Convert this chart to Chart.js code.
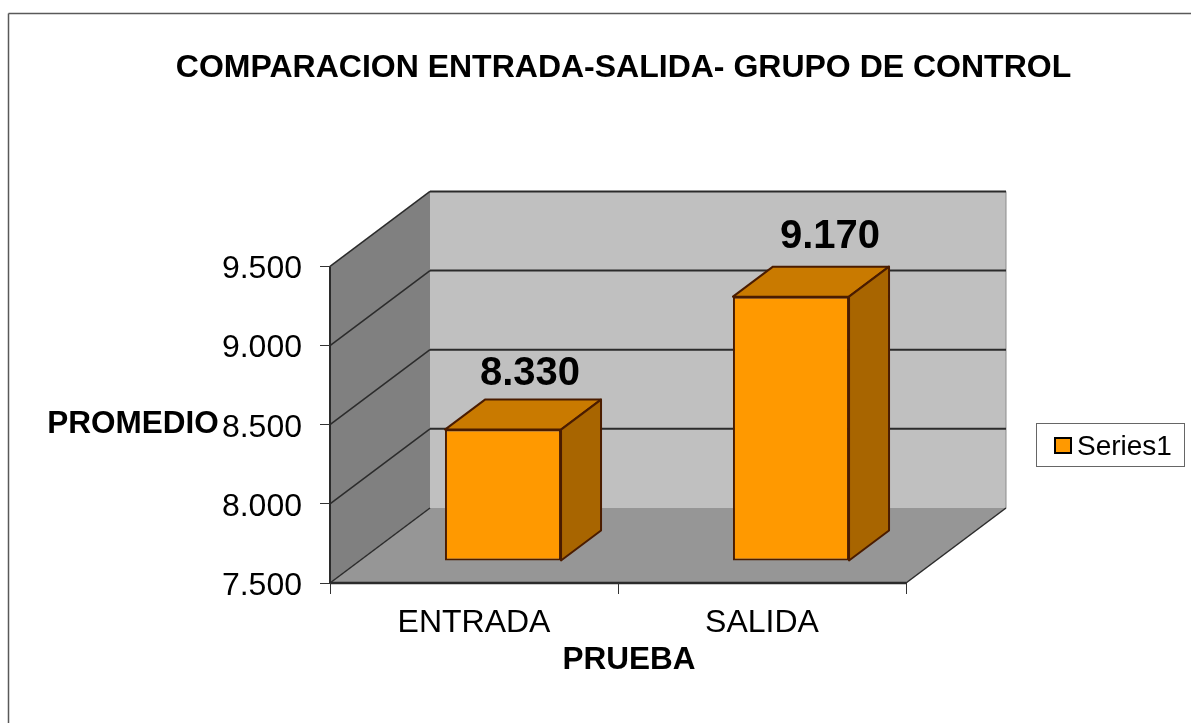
<!DOCTYPE html>
<html>
<head>
<meta charset="utf-8">
<title>Comparacion entrada-salida</title>
<script src="https://cdn.jsdelivr.net/npm/chart.js@4"></script>
<style>
    html, body { margin: 0; padding: 0; background: #fff; overflow: hidden; }
    canvas { display: block; }
</style>
</head>
<body>
<canvas id="myChart" width="1191" height="723"></canvas>
<script>
// data
const categories = ['ENTRADA', 'SALIDA'];
const seriesName = 'Series1';
const promedio = [8.33, 9.17];
const yMin = 7.5;
const yMax = 9.5;
const yStep = 0.5;
const chartTitle = 'COMPARACION ENTRADA-SALIDA- GRUPO DE CONTROL';
const yTitle = 'PROMEDIO';
const xTitle = 'PRUEBA';

// 3d look
const wallDx = 100, wallDy = -75;   // back wall offset
const barDx = 29, barDy = -22;      // bar front face offset
const depthDx = 40, depthDy = -30;  // bar depth
const labelNudge = [[56, -78], [68, -82]]; // value labels, relative to bar top
const fontName = '"Liberation Sans", Arial, sans-serif';
const lineDark = '#2b2b2b';
const barBorder = '#4a1c00';

function poly(c, pts, fill, stroke, lw) {
    c.beginPath();
    pts.forEach((p, i) => i ? c.lineTo(p[0], p[1]) : c.moveTo(p[0], p[1]));
    c.closePath();
    if (fill) { c.fillStyle = fill; c.fill(); }
    if (stroke) { c.strokeStyle = stroke; c.lineWidth = lw; c.lineJoin = 'round'; c.stroke(); }
}

function line(c, x1, y1, x2, y2, color, lw) {
    c.beginPath();
    c.moveTo(x1, y1);
    c.lineTo(x2, y2);
    c.strokeStyle = color;
    c.lineWidth = lw;
    c.stroke();
}

function text(c, str, x, y, font, align) {
    c.font = font;
    c.fillStyle = '#000';
    c.textAlign = align || 'center';
    c.textBaseline = 'middle';
    c.fillText(str, x, y);
}

const box3d = {
    id: 'box3d',
    afterLayout(chart) {
        // title is centred over the whole plot plus the left label
        chart.titleBlock.left = 56;
        chart.titleBlock.right = 1191;
    },
    beforeDraw(chart) {
        const c = chart.ctx, a = chart.chartArea, y = chart.scales.y;
        const L = a.left, R = a.right, T = a.top, B = a.bottom;
        c.save();
        // outer frame, only top and left show
        line(c, 8.5, 723, 8.5, 13.5, '#595959', 1.5);
        line(c, 8.5, 13.5, 1191, 13.5, '#595959', 1.5);
        // back wall, side wall, floor
        poly(c, [[L + wallDx, T + wallDy], [R + wallDx, T + wallDy], [R + wallDx, B + wallDy], [L + wallDx, B + wallDy]], '#c0c0c0');
        line(c, R + wallDx, T + wallDy, R + wallDx, B + wallDy, '#8c8c8c', 1);
        poly(c, [[L, T], [L + wallDx, T + wallDy], [L + wallDx, B + wallDy], [L, B]], '#808080');
        poly(c, [[L, B], [L + wallDx, B + wallDy], [R + wallDx, B + wallDy], [R, B]], '#969696');
        // grid lines run along side wall and back wall
        y.ticks.forEach(t => {
            const py = y.getPixelForValue(t.value);
            line(c, L, py, L + wallDx, py + wallDy, lineDark, 1.5);
            if (t.value > yMin) {
                line(c, L + wallDx, py + wallDy, R + wallDx, py + wallDy, lineDark, 2);
            }
        });
        line(c, L, T, L, B, lineDark, 2);
        line(c, L, B, R, B, lineDark, 2.5);
        line(c, R, B, R + wallDx, B + wallDy, lineDark, 1.5);

        // axis titles
        text(c, yTitle, 133, 424, 'bold 31.5px ' + fontName);
        text(c, xTitle, 629, 660, 'bold 31.5px ' + fontName);

        // legend
        c.strokeStyle = '#666666';
        c.lineWidth = 1;
        c.strokeRect(1036.5, 423.5, 148, 43);
        c.fillStyle = '#ff9900';
        c.fillRect(1055, 438, 16, 15);
        c.strokeStyle = '#000';
        c.lineWidth = 2;
        c.strokeRect(1055, 438, 16, 15);
        text(c, seriesName, 1077, 447, '28px ' + fontName, 'left');
        c.restore();
    },
    beforeDatasetsDraw(chart) {
        chart.ctx.save();
        chart.ctx.translate(barDx, barDy);
    },
    afterDatasetsDraw(chart) {
        const c = chart.ctx;
        chart.getDatasetMeta(0).data.forEach(bar => {
            const x1 = bar.x - bar.width / 2, x2 = bar.x + bar.width / 2;
            poly(c, [[x1, bar.y], [x1 + depthDx, bar.y + depthDy], [x2 + depthDx, bar.y + depthDy], [x2, bar.y]], '#c97a00', barBorder, 2);
            poly(c, [[x2, bar.y], [x2 + depthDx, bar.y + depthDy], [x2 + depthDx, bar.base + depthDy], [x2, bar.base]], '#a86500', barBorder, 2);
        });
        c.restore();
        chart.getDatasetMeta(0).data.forEach((bar, i) => {
            text(c, promedio[i].toFixed(3), bar.x + labelNudge[i][0], bar.y + labelNudge[i][1], 'bold 40px ' + fontName);
        });
    }
};

const myChart = new Chart(document.getElementById('myChart').getContext('2d'), {
    type: 'bar',
    data: {
        labels: categories,
        datasets: [{
            label: seriesName,
            data: promedio,
            base: yMin,
            clip: false,
            backgroundColor: '#ff9900',
            borderColor: barBorder,
            borderWidth: 2,
            borderSkipped: false,
            categoryPercentage: 1,
            barPercentage: 0.403
        }]
    },
    options: {
        responsive: false,
        animation: false,
        layout: { padding: { left: 0, top: 0, right: 285, bottom: 0 } },
        plugins: {
            legend: { display: false },
            tooltip: { enabled: false },
            title: {
                display: true,
                text: chartTitle,
                color: '#000',
                font: { family: fontName, size: 32, weight: 'bold', lineHeight: 1.2 },
                padding: { top: 49, bottom: 179 }
            }
        },
        scales: {
            x: {
                afterFit: s => { s.height = 140; },
                border: { display: false },
                grid: { drawOnChartArea: false, tickLength: 11, tickColor: '#333333', tickWidth: 1, offset: true },
                ticks: { color: '#000', padding: 10, font: { family: fontName, size: 32 } }
            },
            y: {
                min: yMin,
                max: yMax,
                afterFit: s => { s.width = 330; },
                border: { display: false },
                grid: { drawOnChartArea: false, tickLength: 10, tickColor: '#333333', tickWidth: 1 },
                ticks: {
                    stepSize: yStep,
                    color: '#000',
                    padding: 18,
                    labelOffset: 3,
                    font: { family: fontName, size: 32 },
                    callback: v => v.toFixed(3)
                }
            }
        }
    },
    plugins: [box3d]
});
</script>
</body>
</html>
